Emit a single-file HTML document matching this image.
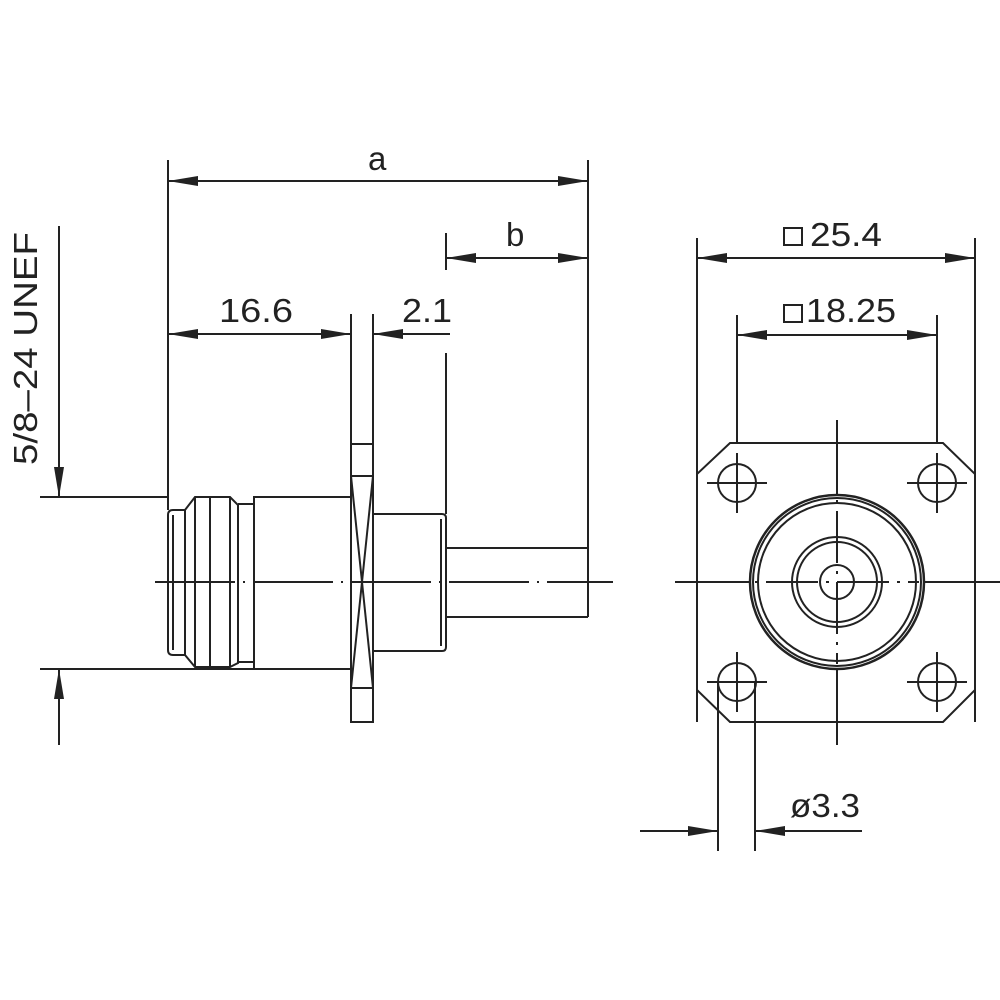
<!DOCTYPE html>
<html><head><meta charset="utf-8"><style>
html,body{margin:0;padding:0;background:#fff;}
svg{display:block}
text{font-family:"Liberation Sans",sans-serif;font-size:33px;fill:#222;}
</style></head><body>
<svg width="1000" height="1000" viewBox="0 0 1000 1000" xmlns="http://www.w3.org/2000/svg">
<defs>
<marker id="ar" viewBox="0 0 30 10" refX="30" refY="5" markerWidth="30" markerHeight="10" markerUnits="userSpaceOnUse" orient="auto-start-reverse">
<path d="M0,0 L30,5 L0,10 Z" fill="#222"/>
</marker>
</defs>
<g stroke="#222" stroke-width="2" fill="none">
<!-- left view extension lines -->
<line x1="168" y1="160" x2="168" y2="510"/>
<line x1="588" y1="160" x2="588" y2="617"/>
<line x1="446" y1="233" x2="446" y2="270"/>
<line x1="446" y1="353" x2="446" y2="514"/>
<line x1="351" y1="314" x2="351" y2="444"/>
<line x1="373" y1="314" x2="373" y2="444"/>
<!-- dims -->
<line x1="168" y1="181" x2="588" y2="181" marker-start="url(#ar)" marker-end="url(#ar)"/>
<line x1="446" y1="258" x2="588" y2="258" marker-start="url(#ar)" marker-end="url(#ar)"/>
<line x1="168" y1="334" x2="351" y2="334" marker-start="url(#ar)" marker-end="url(#ar)"/>
<line x1="450" y1="334" x2="373" y2="334" marker-end="url(#ar)"/>
<!-- 5/8 dim -->
<line x1="59" y1="226" x2="59" y2="497" marker-end="url(#ar)"/>
<line x1="59" y1="745" x2="59" y2="669" marker-end="url(#ar)"/>
<line x1="40" y1="497" x2="168" y2="497"/>
<line x1="40" y1="669" x2="254" y2="669"/>
<!-- nut -->
<path d="M173,510 L185,510 L195,497 L230,497 L238,505 L238,663 L230,667 L195,667 L185,655 L173,655 Q168,655 168,650 L168,515 Q168,510 173,510 Z"/>
<line x1="173" y1="515" x2="173" y2="650"/>
<line x1="185" y1="510" x2="185" y2="655"/>
<line x1="195" y1="497" x2="195" y2="667"/>
<line x1="210" y1="497" x2="210" y2="667"/>
<line x1="230" y1="497" x2="230" y2="667"/>
<path d="M238,504 L254,504 M238,662 L254,662"/>
<!-- body -->
<rect x="254" y="497" width="97" height="172"/>
<!-- flange -->
<rect x="351" y="444" width="22" height="278"/>
<line x1="351" y1="476" x2="373" y2="476"/>
<line x1="351" y1="688" x2="373" y2="688"/>
<line x1="351" y1="476" x2="373" y2="688"/>
<line x1="373" y1="476" x2="351" y2="688"/>
<!-- rear -->
<path d="M373,514 L442,514 Q446,514 446,518 L446,647 Q446,651 442,651 L373,651"/>
<line x1="441" y1="519" x2="441" y2="646"/>
<!-- cable -->
<path d="M446,548 L588,548 M446,617 L588,617"/>
<!-- centerline -->
<line x1="155" y1="582" x2="613" y2="582" stroke-dasharray="80,8,2,8"/>

<!-- right view -->
<line x1="697" y1="238" x2="697" y2="722"/>
<line x1="975" y1="238" x2="975" y2="722"/>
<line x1="697" y1="258" x2="975" y2="258" marker-start="url(#ar)" marker-end="url(#ar)"/>
<line x1="737" y1="315" x2="737" y2="500"/>
<line x1="937" y1="315" x2="937" y2="500"/>
<line x1="737" y1="335" x2="937" y2="335" marker-start="url(#ar)" marker-end="url(#ar)"/>
<path d="M730,443 L943,443 L975,474 L975,690 L943,722 L730,722 L697,690 L697,474 Z" fill="#fff"/>
<line x1="837" y1="420" x2="837" y2="745"/>
<line x1="675" y1="582" x2="1000" y2="582"/>
<g>
<circle cx="737" cy="483" r="19"/><path d="M707,483 H767 M737,453 V513"/>
<circle cx="937" cy="483" r="19"/><path d="M907,483 H967 M937,453 V513"/>
<circle cx="737" cy="682" r="19"/><path d="M707,682 H767 M737,652 V712"/>
<circle cx="937" cy="682" r="19"/><path d="M907,682 H967 M937,652 V712"/>
</g>
<circle cx="837" cy="582" r="87" fill="#fff" stroke-width="2.5"/>
<circle cx="837" cy="582" r="84"/>
<circle cx="837" cy="582" r="79"/>
<circle cx="837" cy="582" r="45"/>
<circle cx="837" cy="582" r="40"/>
<circle cx="837" cy="582" r="17"/>
<line x1="837" y1="500" x2="837" y2="664" stroke-dasharray="3,8,52,8"/>
<line x1="755" y1="582" x2="919" y2="582" stroke-dasharray="3,8,52,8"/>
<!-- ø3.3 -->
<line x1="718" y1="682" x2="718" y2="851"/>
<line x1="755" y1="682" x2="755" y2="851"/>
<line x1="640" y1="831" x2="718" y2="831" marker-end="url(#ar)"/>
<line x1="862" y1="831" x2="755" y2="831" marker-end="url(#ar)"/>
<rect x="784" y="228" width="18" height="17"/>
<rect x="784" y="305" width="18" height="17"/>
</g>
<text x="368" y="170" transform="scale(1,1)">a</text>
<text x="506" y="246">b</text>
<text x="219" y="322" textLength="74" lengthAdjust="spacingAndGlyphs">16.6</text>
<text x="402" y="322" textLength="50" lengthAdjust="spacingAndGlyphs">2.1</text>
<text x="810" y="246" textLength="72" lengthAdjust="spacingAndGlyphs">25.4</text>
<text x="806" y="322" textLength="90" lengthAdjust="spacingAndGlyphs">18.25</text>
<text x="790" y="817" textLength="70" lengthAdjust="spacingAndGlyphs">ø3.3</text>
<text transform="translate(37,465) rotate(-90)" textLength="233" lengthAdjust="spacingAndGlyphs">5/8–24 UNEF</text>
</svg>
</body></html>
